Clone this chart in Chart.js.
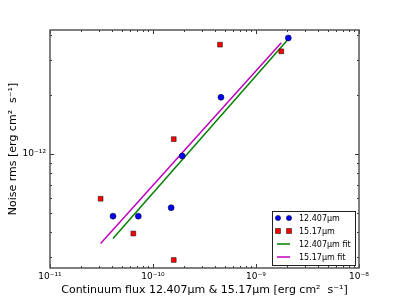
<!DOCTYPE html>
<html>
<head>
<meta charset="utf-8">
<script src="https://cdn.jsdelivr.net/npm/chart.js@4/dist/chart.umd.min.js"></script>
<style>
  html, body { margin: 0; padding: 0; background: #fff; }
  #wrap { width: 399px; height: 299px; }
</style>
</head>
<body>
<div id="wrap"><canvas id="plot"></canvas></div>
<script>
// values (log-log)
var fluxA = [4.09e-11, 7.2e-11, 1.50e-10, 1.92e-10, 4.57e-10, 2.06e-9];
var noiseA = [4.84e-13, 4.84e-13, 5.34e-13, 9.77e-13, 1.94e-12, 3.88e-12];
var fluxB = [3.10e-11, 6.44e-11, 1.59e-10, 1.59e-10, 4.47e-10, 1.76e-9];
var noiseB = [5.93e-13, 3.95e-13, 2.90e-13, 1.19e-12, 3.59e-12, 3.32e-12];
var fitAx = [4.09e-11, 2.06e-9];
var fitAy = [3.73e-13, 3.84e-12];
var fitBx = [3.10e-11, 1.76e-9];
var fitBy = [3.52e-13, 3.67e-12];
var labels = ['12.407\u03bcm', '15.17\u03bcm', '12.407\u03bcm fit', '15.17\u03bcm fit'];
var xRange = [1e-11, 1e-8];
var yRange = [2.64e-13, 4.26e-12];

function pts(xs, ys) {
    return xs.map(function (x, i) { return {x: x, y: ys[i]}; });
}

var sup = {'-': '\u207b', '0': '\u2070', '1': '\u00b9', '2': '\u00b2', '3': '\u00b3', '4': '\u2074',
           '5': '\u2075', '6': '\u2076', '7': '\u2077', '8': '\u2078', '9': '\u2079'};
function powLabel(v) {
    var e = String(Math.round(Math.log10(v)));
    return '10' + e.split('').map(function (c) { return sup[c]; }).join('');
}

function decades(scale) {
    var out = [];
    var lo = Math.ceil(Math.log10(scale.min) - 1e-9);
    var hi = Math.floor(Math.log10(scale.max) + 1e-9);
    for (var e = lo; e <= hi; e++) out.push({value: Math.pow(10, e)});
    scale.ticks = out;
}

// matplotlib style frame with inward major/minor ticks
var frame = {
    id: 'frame',
    afterDatasetsDraw: function (chart) {
        var c = chart.ctx, a = chart.chartArea;
        var xs = chart.scales.x, ys = chart.scales.y;
        c.save();
        c.strokeStyle = '#333';
        c.lineWidth = 1;
        c.beginPath();
        function mark(scale, horiz) {
            var e0 = Math.floor(Math.log10(scale.min)), e1 = Math.ceil(Math.log10(scale.max));
            for (var e = e0; e <= e1; e++) {
                for (var k = 1; k < 10; k++) {
                    var v = k * Math.pow(10, e);
                    if (v < scale.min * 0.999 || v > scale.max * 1.001) continue;
                    var p = Math.round(scale.getPixelForValue(v)) + 0.5;
                    var len = k === 1 ? 4 : 2;
                    if (horiz) {
                        c.moveTo(p, a.bottom); c.lineTo(p, a.bottom - len);
                        c.moveTo(p, a.top); c.lineTo(p, a.top + len);
                    } else {
                        c.moveTo(a.left, p); c.lineTo(a.left + len, p);
                        c.moveTo(a.right, p); c.lineTo(a.right - len, p);
                    }
                }
            }
        }
        mark(xs, true);
        mark(ys, false);
        c.stroke();
        c.strokeStyle = '#555';
        c.lineWidth = 1.5;
        c.strokeRect(a.left, a.top, a.right - a.left, a.bottom - a.top);
        c.restore();
    }
};

// legend box in the lower right, drawn like matplotlib's
var legendBox = {
    id: 'legendBox',
    afterDraw: function (chart) {
        var c = chart.ctx;
        var bx = 272, by = 211, bw = 83, bh = 54;
        c.save();
        c.fillStyle = '#fff';
        c.strokeStyle = '#222';
        c.lineWidth = 1;
        c.fillRect(bx, by, bw, bh);
        c.strokeRect(bx + 0.5, by + 0.5, bw, bh);
        c.font = '8px "DejaVu Sans"';
        c.textBaseline = 'middle';
        chart.data.datasets.forEach(function (ds, i) {
            var y = by + 7 + i * 13;
            if (ds.showLine) {
                c.strokeStyle = ds.borderColor;
                c.lineWidth = 1.5;
                c.beginPath();
                c.moveTo(277, y); c.lineTo(290, y);
                c.stroke();
            } else {
                [278, 289].forEach(function (x) {
                    c.fillStyle = ds.backgroundColor;
                    c.strokeStyle = '#000';
                    c.lineWidth = 0.5;
                    c.beginPath();
                    if (ds.pointStyle === 'rect') c.rect(x - 2.5, y - 2.5, 5, 5);
                    else c.arc(x, y, 2.6, 0, Math.PI * 2);
                    c.fill(); c.stroke();
                });
            }
            c.fillStyle = '#000';
            c.fillText(ds.label, 299, y + 0.5);
        });
        c.restore();
    }
};

var ctx = document.getElementById('plot').getContext('2d');
var chart = new Chart(ctx, {
    type: 'scatter',
    data: {
        datasets: [{
            label: labels[0],
            data: pts(fluxA, noiseA),
            pointStyle: 'circle',
            pointRadius: 3,
            backgroundColor: '#0000ff',
            borderColor: '#000',
            borderWidth: 0.5,
            order: 0
        }, {
            label: labels[1],
            data: pts(fluxB, noiseB),
            pointStyle: 'rect',
            pointRadius: 3.4,
            backgroundColor: '#ff0000',
            borderColor: '#000',
            borderWidth: 0.5,
            order: 0
        }, {
            label: labels[2],
            data: pts(fitAx, fitAy),
            showLine: true,
            pointRadius: 0,
            borderColor: '#008000',
            borderWidth: 1.5,
            order: 1
        }, {
            label: labels[3],
            data: pts(fitBx, fitBy),
            showLine: true,
            pointRadius: 0,
            borderColor: '#bf00bf',
            borderWidth: 1.5,
            order: 1
        }]
    },
    options: {
        responsive: true,
        maintainAspectRatio: false,
        animation: false,
        layout: { padding: { left: 0, right: 40, top: 30, bottom: 0 } },
        scales: {
            x: {
                type: 'logarithmic',
                min: xRange[0],
                max: xRange[1],
                afterBuildTicks: decades,
                afterFit: function (s) { s.height = 31; },
                grid: { display: false, drawTicks: false },
                border: { display: false },
                ticks: {
                    autoSkip: false,
                    maxRotation: 0,
                    padding: 3,
                    color: '#000',
                    font: { family: 'DejaVu Sans', size: 9 },
                    callback: function (v) { return powLabel(v); }
                },
                title: {
                    display: true,
                    text: 'Continuum flux 12.407\u03bcm & 15.17\u03bcm [erg cm\u00b2  s\u207b\u00b9]',
                    color: '#000',
                    font: { family: 'DejaVu Sans', size: 11 },
                    padding: { top: 0, bottom: 2 }
                }
            },
            y: {
                type: 'logarithmic',
                min: yRange[0],
                max: yRange[1],
                afterBuildTicks: decades,
                afterFit: function (s) { s.width = 50; },
                grid: { display: false, drawTicks: false },
                border: { display: false },
                ticks: {
                    autoSkip: false,
                    padding: 4,
                    color: '#000',
                    font: { family: 'DejaVu Sans', size: 9 },
                    callback: function (v) { return powLabel(v); }
                },
                title: {
                    display: true,
                    text: 'Noise rms [erg cm\u00b2  s\u207b\u00b9]',
                    color: '#000',
                    font: { family: 'DejaVu Sans', size: 11 },
                    padding: { top: 7, bottom: 0 }
                }
            }
        },
        plugins: {
            legend: { display: false },
            tooltip: { enabled: false }
        }
    },
    plugins: [frame, legendBox]
});
</script>
</body>
</html>
